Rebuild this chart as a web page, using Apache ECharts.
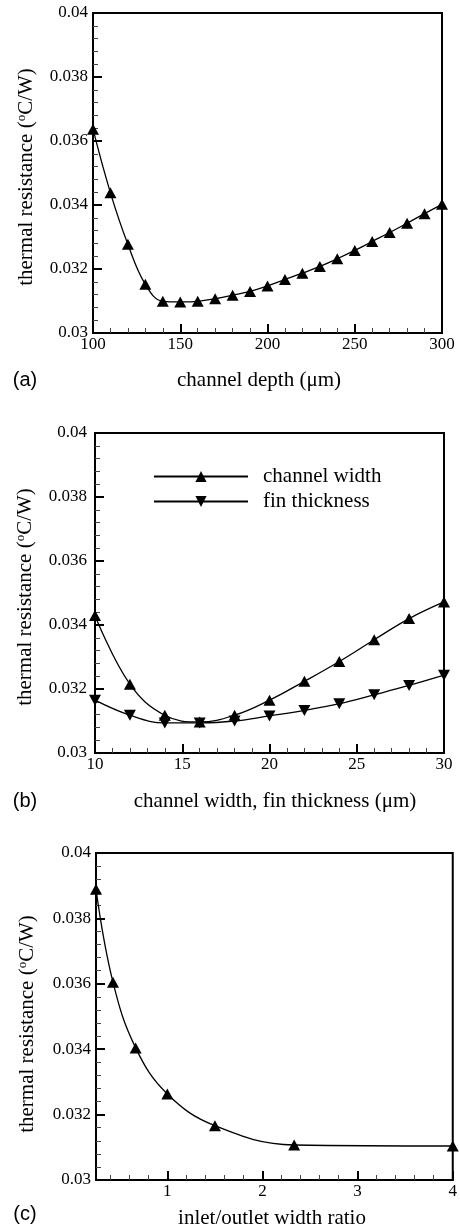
<!DOCTYPE html>
<html>
<head>
<meta charset="utf-8">
<script src="https://cdn.jsdelivr.net/npm/echarts@6/dist/echarts.min.js"></script>
<style>
  html, body { margin: 0; padding: 0; background: #fff; }
  #chart { width: 460px; height: 1227px; }
</style>
</head>
<body>
<div id="chart"></div>
<script>
// ---- data ----
// (a) channel depth sweep
var depthX = [100, 110, 120, 130, 140, 150, 160, 170, 180, 190, 200, 210, 220, 230, 240, 250, 260, 270, 280, 290, 300];
var depthR = [0.03637, 0.03438, 0.03277, 0.03152, 0.03099, 0.03097, 0.03099, 0.03107, 0.03118, 0.03130, 0.03147,
              0.03167, 0.03187, 0.03208, 0.03232, 0.03258, 0.03286, 0.03314, 0.03343, 0.03373, 0.03402];

// (b) channel width / fin thickness sweep
var widthX = [10, 12, 14, 16, 18, 20, 22, 24, 26, 28, 30];
var chWidthR = [0.03430, 0.03215, 0.03118, 0.03097, 0.03118, 0.03165, 0.03224, 0.03286, 0.03354, 0.03420, 0.03472];
var finThickR = [0.03165, 0.03118, 0.03094, 0.03094, 0.03100, 0.03116, 0.03133, 0.03154, 0.03182, 0.03211, 0.03243];

// (c) inlet/outlet width ratio sweep
var ratioX = [0.25, 0.4286, 0.6667, 1, 1.5, 2.333, 4];
var ratioR = [0.03889, 0.03605, 0.03404, 0.03263, 0.03166, 0.03107, 0.03104];

// tick values for panel (c)
var ratioTicks = [1, 2, 3, 4];
var ratioMinor = [0.4, 0.6, 0.8, 1.2, 1.4, 1.6, 1.8, 2.2, 2.4, 2.6, 2.8, 3.2, 3.4, 3.6, 3.8];

var legendNames = ['channel width', 'fin thickness'];
var yTitle = 'thermal resistance ({sup|o}C/W)';
var xTitles = ['channel depth (\u03bcm)', 'channel width, fin thickness (\u03bcm)', 'inlet/outlet width ratio'];
var panelTags = ['(a)', '(b)', '(c)'];

var SERIF = "'Liberation Serif', 'Times New Roman', serif";
var SANS = "'Liberation Sans', Arial, sans-serif";

function zip(xs, ys) {
  return xs.map(function (x, i) { return [x, ys[i]]; });
}

var grids = [
  { left: 93, top: 13, width: 349, height: 320 },
  { left: 95, top: 433, width: 349, height: 320 },
  { left: 96, top: 853, width: 359, height: 327 }
];

function yAxisFor(g, margin) {
  return {
    type: 'value', gridIndex: g, min: 0.03, max: 0.04, interval: 0.002,
    axisLine: { show: true, lineStyle: { color: '#000', width: 2 } },
    axisTick: { inside: true, length: 9, lineStyle: { color: '#000', width: 2 } },
    minorTick: { show: true, splitNumber: 5, length: 5, lineStyle: { color: '#444', width: 1 } },
    splitLine: { show: false },
    axisLabel: { margin: margin, color: '#000', fontFamily: SERIF, fontSize: 17, showMinLabel: true, showMaxLabel: true }
  };
}

function xAxisFor(g, min, max, interval) {
  return {
    type: 'value', gridIndex: g, min: min, max: max, interval: interval,
    axisLine: { show: true, onZero: false, lineStyle: { color: '#000', width: 2 } },
    axisTick: { inside: true, length: 9, lineStyle: { color: '#000', width: 2 } },
    minorTick: { show: true, splitNumber: 5, length: 5, lineStyle: { color: '#444', width: 1 } },
    splitLine: { show: false },
    axisLabel: { margin: 3, color: '#000', fontFamily: SERIF, fontSize: 17, showMinLabel: true, showMaxLabel: true }
  };
}

var xC = xAxisFor(2, 0.25, 4);
delete xC.interval;
xC.minorTick = { show: false };
xC.axisTick.customValues = ratioTicks;
xC.axisLabel.customValues = ratioTicks;

// extra axis just for the minor ticks of (c), shifted down onto the bottom edge
var xCMinor = {
  type: 'value', gridIndex: 2, position: 'top', offset: -327, min: 0.25, max: 4,
  axisLine: { show: false },
  axisTick: { inside: false, length: 5, customValues: ratioMinor, lineStyle: { color: '#444', width: 1 } },
  axisLabel: { show: false },
  splitLine: { show: false }
};

function lineSeries(name, xi, yi, data, rotate) {
  return {
    name: name, type: 'line', xAxisIndex: xi, yAxisIndex: yi,
    data: data, smooth: 0.4,
    symbol: 'triangle', symbolSize: [12, 11], symbolRotate: rotate || 0,
    lineStyle: { color: '#000', width: 1.3 },
    itemStyle: { color: '#000' },
    emphasis: { disabled: true },
    z: 3
  };
}

var graphics = [];
var yTitleCenters = [[26, 177], [25, 597], [27, 1024]];
var xTitleCenters = [[259, 380], [275, 801], [272, 1218]];
var tagCenters = [[25, 380], [25, 801], [25, 1214]];
for (var i = 0; i < 3; i++) {
  graphics.push({
    type: 'text', x: yTitleCenters[i][0], y: yTitleCenters[i][1], rotation: Math.PI / 2,
    style: {
      text: yTitle, align: 'center', verticalAlign: 'middle', fill: '#000',
      font: '21px ' + SERIF,
      rich: { sup: { fontSize: 13, fontFamily: SERIF, verticalAlign: 'top', fill: '#000' } }
    }
  });
  graphics.push({
    type: 'text', x: xTitleCenters[i][0], y: xTitleCenters[i][1],
    style: { text: xTitles[i], align: 'center', verticalAlign: 'middle', fill: '#000', font: '21px ' + SERIF }
  });
  graphics.push({
    type: 'text', x: tagCenters[i][0], y: tagCenters[i][1],
    style: { text: panelTags[i], align: 'center', verticalAlign: 'middle', fill: '#000', font: '20px ' + SANS }
  });
}

var chart = echarts.init(document.getElementById('chart'));
chart.setOption({
  backgroundColor: '#fff',
  animation: false,
  grid: grids.map(function (g) {
    return { left: g.left, top: g.top, width: g.width, height: g.height, show: true,
             borderColor: '#000', borderWidth: 2, backgroundColor: 'transparent' };
  }),
  xAxis: [
    xAxisFor(0, 100, 300, 50),
    xAxisFor(1, 10, 30, 5),
    xC,
    xCMinor
  ],
  yAxis: [yAxisFor(0, 5), yAxisFor(1, 8), yAxisFor(2, 5)],
  legend: {
    data: legendNames, orient: 'vertical', left: 148, top: 461,
    itemWidth: 94, itemHeight: 14, itemGap: 4,
    selectedMode: false,
    textStyle: { color: '#000', fontFamily: SERIF, fontSize: 21, lineHeight: 21, padding: [0, 0, 0, 10] }
  },
  series: [
    lineSeries(null, 0, 0, zip(depthX, depthR)),
    lineSeries(legendNames[0], 1, 1, zip(widthX, chWidthR)),
    lineSeries(legendNames[1], 1, 1, zip(widthX, finThickR), 180),
    lineSeries(null, 2, 2, zip(ratioX, ratioR))
  ],
  graphic: graphics
});
</script>
</body>
</html>
